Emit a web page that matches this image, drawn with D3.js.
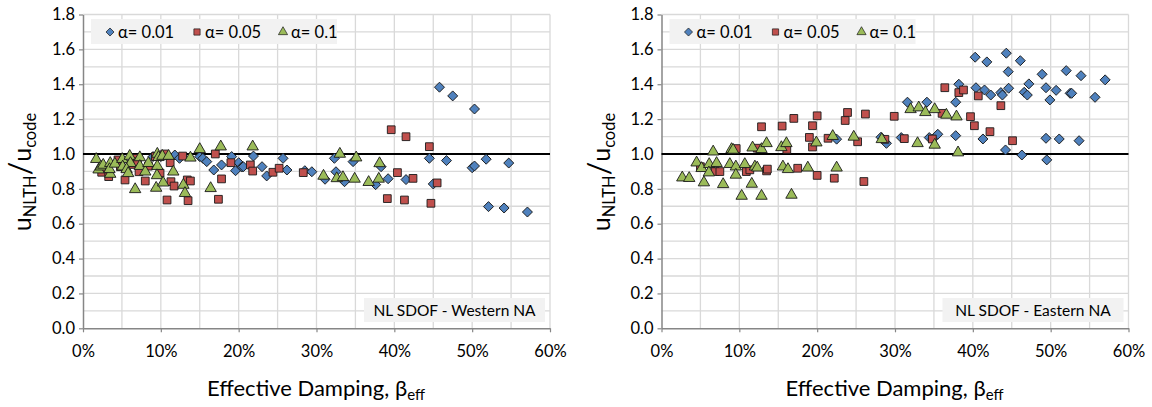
<!DOCTYPE html>
<html>
<head>
<meta charset="utf-8">
<script src="https://cdn.jsdelivr.net/npm/d3@7"></script>
<style>
body { margin: 0; background: #fff; }
text { font-family: Lato, "Open Sans", sans-serif; fill: #000; }
</style>
</head>
<body>
<div id="chart"></div>
<script>
// values: [effective damping %, uNLTH/ucode]
let westA001 = [[9.0,0.985],[10.0,0.985],[11.8,0.994],[12.4,0.975],[15.0,0.985],[15.4,0.975],[15.9,0.956],[16.8,0.908],[17.8,0.937],[19.1,0.985],[19.6,0.904],[20.0,0.95],[20.4,0.925],[21.9,0.988],[20.6,0.927],[23.0,0.927],[23.6,0.874],[25.7,0.975],[26.2,0.908],[28.5,0.904],[29.4,0.898],[32.3,0.975],[32.5,0.898],[31.1,0.855],[33.6,0.841],[34.7,0.956],[38.3,0.927],[37.6,0.824],[39.2,0.858],[41.5,0.853],[45.0,0.828],[44.5,0.975],[46.7,0.962],[50.0,0.921],[50.3,0.931],[51.8,0.970],[54.7,0.948],[52.1,0.698],[54.1,0.690],[57.1,0.667],[45.8,1.383],[47.5,1.333],[50.3,1.258]]
let westA005 = [[2.4,0.895],[3.3,0.87],[4.5,0.966],[4.8,0.927],[5.4,0.851],[6.2,0.94],[6.7,0.975],[7.0,0.955],[7.2,0.898],[8.0,0.845],[8.4,0.93],[9.3,0.985],[9.9,0.89],[10.5,1.0],[11.2,0.95],[11.3,0.841],[11.7,0.816],[10.8,0.736],[12.8,0.988],[13.4,0.851],[13.8,0.845],[13.5,0.732],[17.0,1.0],[17.8,0.857],[17.4,0.74],[19.0,0.95],[21.5,0.937],[21.8,0.902],[24.4,0.895],[25.2,0.918],[28.3,0.893],[39.6,1.139],[41.5,1.099],[44.5,1.042],[40.4,0.893],[42.4,0.86],[45.5,0.834],[39.1,0.744],[41.3,0.736],[44.7,0.717]]
let westA01 = [[1.7,0.97],[2.0,0.91],[2.3,0.927],[2.6,0.937],[3.5,0.947],[3.5,0.885],[3.4,0.912],[4.1,0.943],[5.05,0.97],[5.1,0.927],[6.0,0.988],[6.1,0.947],[5.6,0.912],[5.8,0.889],[6.7,0.797],[7.3,0.98],[7.3,0.93],[8.0,0.898],[8.4,0.947],[9.55,1.0],[9.55,0.93],[9.5,0.877],[9.4,0.805],[9.7,0.981],[10.2,0.988],[10.3,0.835],[11.0,0.988],[11.6,0.898],[12.9,0.822],[13.1,0.775],[13.8,0.978],[15.0,1.027],[16.4,0.803],[17.7,1.042],[21.8,1.042],[30.9,0.874],[32.6,0.86],[33.4,0.866],[33.0,1.0],[34.9,0.857],[35.1,0.979],[36.7,0.838],[38.0,0.857],[38.1,0.946]]

let eastA001 = [[22.5,1.085],[28.2,1.096],[28.9,1.061],[30.8,1.094],[31.6,1.297],[34.1,1.297],[34.4,1.094],[34.85,1.086],[35.5,1.113],[37.8,1.297],[37.8,1.105],[38.2,1.4],[40.3,1.555],[40.4,1.38],[41.3,1.086],[41.5,1.367],[41.8,1.528],[42.3,1.338],[43.6,1.352],[43.8,1.338],[44.2,1.023],[44.3,1.578],[44.55,1.472],[44.6,1.377],[46.1,1.535],[46.3,0.994],[46.6,1.354],[47.0,1.338],[47.2,1.402],[48.9,1.457],[49.4,1.38],[49.4,1.09],[49.5,0.966],[49.9,1.31],[50.7,1.365],[51.1,1.086],[52.0,1.478],[52.5,1.348],[52.7,1.348],[53.65,1.076],[53.9,1.449],[55.7,1.325],[57.0,1.425]]
let eastA005 = [[5.0,0.927],[6.9,0.899],[7.5,0.899],[9.6,1.031],[10.9,0.899],[11.35,0.909],[12.3,1.033],[12.85,1.156],[13.5,0.903],[13.6,0.913],[15.5,1.16],[16.1,1.026],[17.0,1.204],[17.5,0.918],[19.0,1.095],[19.4,1.04],[19.4,1.162],[20.0,1.219],[20.0,0.877],[21.4,1.09],[22.2,0.861],[23.6,1.192],[23.9,1.238],[25.2,1.07],[26.0,0.842],[26.2,1.229],[28.7,1.084],[29.9,1.216],[31.2,1.088],[34.8,1.086],[36.05,1.233],[36.4,1.38],[38.2,1.352],[38.8,1.367],[39.7,1.214],[40.2,1.162],[40.7,1.333],[42.2,1.128],[43.6,1.277],[45.1,1.076]]
let eastA01 = [[2.67,0.864],[3.56,0.861],[4.51,0.95],[5.15,0.918],[5.45,0.836],[6.13,0.941],[6.09,0.893],[6.64,1.013],[7.08,0.947],[7.92,0.826],[8.78,0.941],[9.0,1.027],[9.2,1.023],[9.55,0.927],[9.55,0.88],[10.3,0.759],[10.7,0.941],[11.6,0.828],[11.7,1.036],[12.0,0.927],[12.3,0.921],[12.85,1.027],[12.85,0.759],[13.5,1.061],[15.4,1.038],[16.05,1.061],[15.6,0.927],[16.25,0.912],[16.7,0.765],[18.8,0.921],[19.9,1.065],[22.0,1.102],[22.5,0.921],[24.7,1.098],[28.3,1.084],[32.0,1.256],[33.05,1.266],[33.9,1.239],[35.1,1.256],[36.6,1.224],[37.9,1.214],[32.9,1.061],[35.1,1.052],[38.1,1.008]]

let seriesNames = ["α= 0.01", "α= 0.05", "α= 0.1"]
let seriesColors = ["#4f81bd", "#c0504d", "#9bbb59"]
let xTicks = [0, 10, 20, 30, 40, 50, 60]
let yTicks = [0, 0.2, 0.4, 0.6, 0.8, 1.0, 1.2, 1.4, 1.6, 1.8]
let panelLabels = ["NL SDOF - Western NA", "NL SDOF - Eastern NA"]

let svgWidth = 1152, svgHeight = 407

let svg = d3.select('#chart')
    .append('svg')
    .attr('width', svgWidth)
    .attr('height', svgHeight)

let x = d3.scaleLinear().domain([0, 60]).range([83, 550])
let y = d3.scaleLinear().domain([0, 1.8]).range([328.3, 14.5])

function markerPath(i, size){
    if(i == 0) return d3.symbol(d3.symbolSquare, size * 50)()
    if(i == 1) return d3.symbol(d3.symbolSquare, size * 60)()
    return d3.symbol(d3.symbolTriangle, size * 56)()
}
function markerRot(i){ return i == 0 ? " rotate(45)" : "" }

function drawPanel(offset, series, label){
    let g = svg.append('g').attr("transform", `translate(${offset},0)`)

    // gridlines every 5% and 0.1
    g.selectAll(".vgrid")
        .data(d3.range(5, 61, 5))
        .join("line")
        .attr("x1", d => x(d)).attr("x2", d => x(d))
        .attr("y1", y(0)).attr("y2", y(1.8))
        .attr("stroke", "#d9d9d9").attr("stroke-width", 1.3)

    g.selectAll(".hgrid")
        .data(d3.range(1, 19).map(d => d / 10))
        .join("line")
        .attr("x1", x(0)).attr("x2", x(60))
        .attr("y1", d => y(d)).attr("y2", d => y(d))
        .attr("stroke", "#d9d9d9").attr("stroke-width", 1.3)

    let yAxis = g.append("g")
        .attr("transform", `translate(${x(0)},0)`)
        .call(d3.axisLeft(y).tickValues(yTicks).tickFormat(d3.format(".1f")).tickSizeInner(4).tickSizeOuter(0).tickPadding(4))
    let xAxis = g.append("g")
        .attr("transform", `translate(0,${y(0)})`)
        .call(d3.axisBottom(x).tickValues(xTicks).tickFormat(d => d + "%").tickSizeInner(4).tickSizeOuter(0).tickPadding(20))

    for(let ax of [yAxis, xAxis]){
        ax.select(".domain").attr("stroke", "#868686").attr("stroke-width", 1.5)
        ax.selectAll(".tick line").attr("stroke", "#868686").attr("stroke-width", 1.2)
        ax.selectAll("text").style("font-size", "16.5px").style("font-family", "Lato")
    }
    xAxis.selectAll("text").attr("dy", "0.3em")
    yAxis.selectAll(".tick line").filter(d => d == 1.0).remove()

    // reference line at 1.0
    g.append("line")
        .attr("x1", x(0)).attr("x2", x(60))
        .attr("y1", y(1)).attr("y2", y(1))
        .attr("stroke", "#000").attr("stroke-width", 2)

    series.forEach((s, i) => {
        g.append("g").selectAll("path")
            .data(s)
            .join("path")
            .attr("d", markerPath(i, 1))
            .attr("transform", d => `translate(${x(d[0])},${y(d[1])})` + markerRot(i))
            .attr("fill", seriesColors[i])
            .attr("stroke", "#1a1a1a")
            .attr("stroke-width", 0.9)
    })

    // legend
    let lg = g.append("g")
    lg.append("rect")
        .attr("x", 91).attr("y", 19).attr("width", 246).attr("height", 25)
        .attr("fill", "#f2f2f2")
    let lx = [110, 197, 283]
    seriesNames.forEach((n, i) => {
        lg.append("path")
            .attr("d", markerPath(i, 0.65))
            .attr("transform", `translate(${lx[i]},32)` + markerRot(i))
            .attr("fill", seriesColors[i])
            .attr("stroke", "#1a1a1a")
            .attr("stroke-width", 0.7)
        lg.append("text")
            .attr("x", lx[i] + 8).attr("y", 38)
            .style("font-size", "16.5px")
            .text(n)
    })

    // annotation
    g.append("rect")
        .attr("x", 364).attr("y", 298).attr("width", 181).attr("height", 24)
        .attr("fill", "#f2f2f2")
    g.append("text")
        .attr("x", 454.5).attr("y", 315.5)
        .attr("text-anchor", "middle")
        .style("font-size", "15.5px")
        .text(label)

    // axis titles
    let xt = g.append("text")
        .attr("x", 316).attr("y", 396)
        .attr("text-anchor", "middle")
        .style("font-size", "22px")
    xt.append("tspan").text("Effective Damping, β")
    xt.append("tspan").attr("dy", 4).style("font-size", "15px").text("eff")

    let yt = g.append("text")
        .attr("transform", "translate(31,172) rotate(-90)")
        .attr("text-anchor", "middle")
        .style("font-size", "25px")
    yt.append("tspan").text("u")
    yt.append("tspan").attr("dy", 5).style("font-size", "16.5px").text("NLTH")
    yt.append("tspan").attr("dy", -5).style("font-size", "30px").text("/")
    yt.append("tspan").text("u")
    yt.append("tspan").attr("dy", 5).style("font-size", "16.5px").text("code")
}

drawPanel(0, [westA001, westA005, westA01], panelLabels[0])
drawPanel(578.5, [eastA001, eastA005, eastA01], panelLabels[1])
</script>
</body>
</html>
